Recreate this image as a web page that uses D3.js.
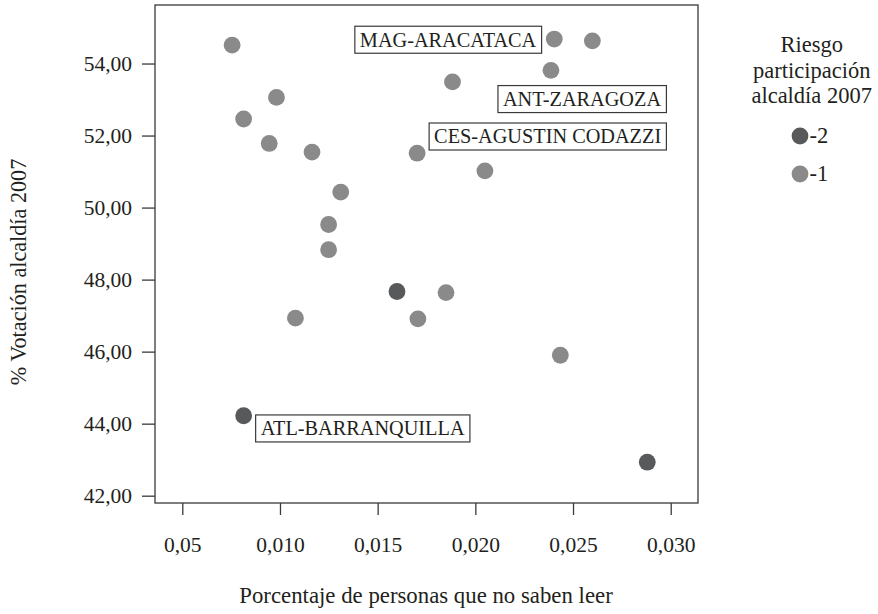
<!DOCTYPE html>
<html>
<head>
<meta charset="utf-8">
<script src="https://cdn.jsdelivr.net/npm/d3@7/dist/d3.min.js"></script>
<style>
  html, body { margin: 0; padding: 0; background: #fff; }
  svg { display: block; }
  text { font-family: "Liberation Serif", "Times New Roman", serif; fill: #231f20; }
</style>
</head>
<body>
<svg id="chart" width="878" height="614"></svg>
<script>
// ---------------- DATA ----------------
const xValues = [0.00755, 0.02404, 0.02599, 0.02387, 0.01883, 0.00982, 0.00814, 0.00945, 0.01164, 0.01702,
                 0.02049, 0.01311, 0.01249, 0.01249, 0.01599, 0.01850, 0.01079, 0.01706, 0.02435, 0.00814, 0.02880];
const yValues = [54.51, 54.68, 54.63, 53.81, 53.49, 53.06, 52.46, 51.78, 51.54, 51.51,
                 51.02, 50.43, 49.53, 48.83, 47.67, 47.64, 46.93, 46.91, 45.90, 44.22, 42.93];
const riskValues = [-1, -1, -1, -1, -1, -1, -1, -1, -1, -1,
                    -1, -1, -1, -1, -2, -1, -1, -1, -1, -2, -2];
const riskCategories = [-2, -1];
const riskLabels = ["-2", "-1"];
const yTickValues = [42, 44, 46, 48, 50, 52, 54];
const yTickLabels = ["42,00", "44,00", "46,00", "48,00", "50,00", "52,00", "54,00"];
const xTickValues = [0.005, 0.010, 0.015, 0.020, 0.025, 0.030];
const xTickLabels = ["0,05", "0,010", "0,015", "0,020", "0,025", "0,030"];
const annotationNames = ["MAG-ARACATACA", "ANT-ZARAGOZA", "CES-AGUSTIN CODAZZI", "ATL-BARRANQUILLA"];
const annotationPoints = [1, 3, 9, 19];
const xTitle = "Porcentaje de personas que no saben leer";
const yTitle = "% Votación alcaldía 2007";
const legendTitle = ["Riesgo", "participación", "alcaldía 2007"];

// ---------------- LAYOUT ----------------
const plot = { left: 155, right: 698, top: 5, bottom: 503 };
const tickFont = 21.5;
const titleFont = 22.8;
const legendFont = 22.5;
const annoFont = 20.3;
const annotationLayout = [
  { dx: -18, dy: 7.7, anchor: "end" },
  { dx: -48, dy: 35.7, anchor: "start" },
  { dx: 17, dy: -9.7, anchor: "start" },
  { dx: 17, dy: 19.7, anchor: "start" }
];

const svg = d3.select("#chart");

const x = d3.scaleLinear().domain([0.003603, 0.031397]).range([plot.left, plot.right]);
const y = d3.scaleLinear().domain([41.797, 55.625]).range([plot.bottom, plot.top]);
const color = d3.scaleOrdinal().domain(riskCategories).range(["#58595b", "#8a8a8b"]);

// frame
svg.append("rect")
  .attr("x", plot.left).attr("y", plot.top)
  .attr("width", plot.right - plot.left).attr("height", plot.bottom - plot.top)
  .attr("fill", "none").attr("stroke", "#3a3a3a").attr("stroke-width", 1.3);

// y axis
const yAxis = d3.axisLeft(y).tickValues(yTickValues)
  .tickFormat((d, i) => yTickLabels[i]).tickSize(13).tickPadding(10);
const gy = svg.append("g").attr("transform", `translate(${plot.left},0)`).call(yAxis);
gy.select(".domain").remove();
gy.selectAll(".tick line").attr("stroke", "#3a3a3a").attr("stroke-width", 1.3);
gy.selectAll(".tick text").attr("font-size", tickFont).attr("font-family", "Liberation Serif").attr("fill", "#231f20");

// x axis
const xAxis = d3.axisBottom(x).tickValues(xTickValues)
  .tickFormat((d, i) => xTickLabels[i]).tickSize(12).tickPadding(22);
const gx = svg.append("g").attr("transform", `translate(0,${plot.bottom})`).call(xAxis);
gx.select(".domain").remove();
gx.selectAll(".tick line").attr("stroke", "#3a3a3a").attr("stroke-width", 1.3);
gx.selectAll(".tick text").attr("font-size", tickFont).attr("font-family", "Liberation Serif").attr("fill", "#231f20");

// points
const pts = xValues.map((v, i) => ({ x: v, y: yValues[i], r: riskValues[i] }));
svg.append("g").selectAll("circle").data(pts).join("circle")
  .attr("cx", d => x(d.x)).attr("cy", d => y(d.y)).attr("r", 8.4)
  .attr("fill", d => color(d.r));

// annotations
annotationNames.forEach((name, i) => {
  const p = pts[annotationPoints[i]];
  const L = annotationLayout[i];
  const g = svg.append("g");
  const t = g.append("text")
    .attr("x", x(p.x) + L.dx).attr("y", y(p.y) + L.dy)
    .attr("text-anchor", L.anchor).attr("font-size", annoFont).text(name);
  const bb = t.node().getBBox();
  g.insert("rect", "text")
    .attr("x", bb.x - 5).attr("y", bb.y - 2.5)
    .attr("width", bb.width + 10).attr("height", bb.height + 5)
    .attr("fill", "#fff").attr("stroke", "#3a3a3a").attr("stroke-width", 1.2);
});

// axis titles
svg.append("text").attr("x", 426).attr("y", 603).attr("text-anchor", "middle")
  .attr("font-size", titleFont).text(xTitle);
svg.append("text").attr("transform", "translate(26,272) rotate(-90)").attr("text-anchor", "middle")
  .attr("font-size", 22.2).text(yTitle);

// legend
const lg = svg.append("g");
legendTitle.forEach((line, i) => {
  lg.append("text").attr("x", 811.7).attr("y", 52.3 + i * 25.5)
    .attr("text-anchor", "middle").attr("font-size", legendFont).text(line);
});
riskCategories.forEach((c, i) => {
  lg.append("circle").attr("cx", 800).attr("cy", 136 + i * 38).attr("r", 8.4).attr("fill", color(c));
  lg.append("text").attr("x", 809.5).attr("y", 143 + i * 38).attr("font-size", legendFont).text(riskLabels[i]);
});
</script>
</body>
</html>
